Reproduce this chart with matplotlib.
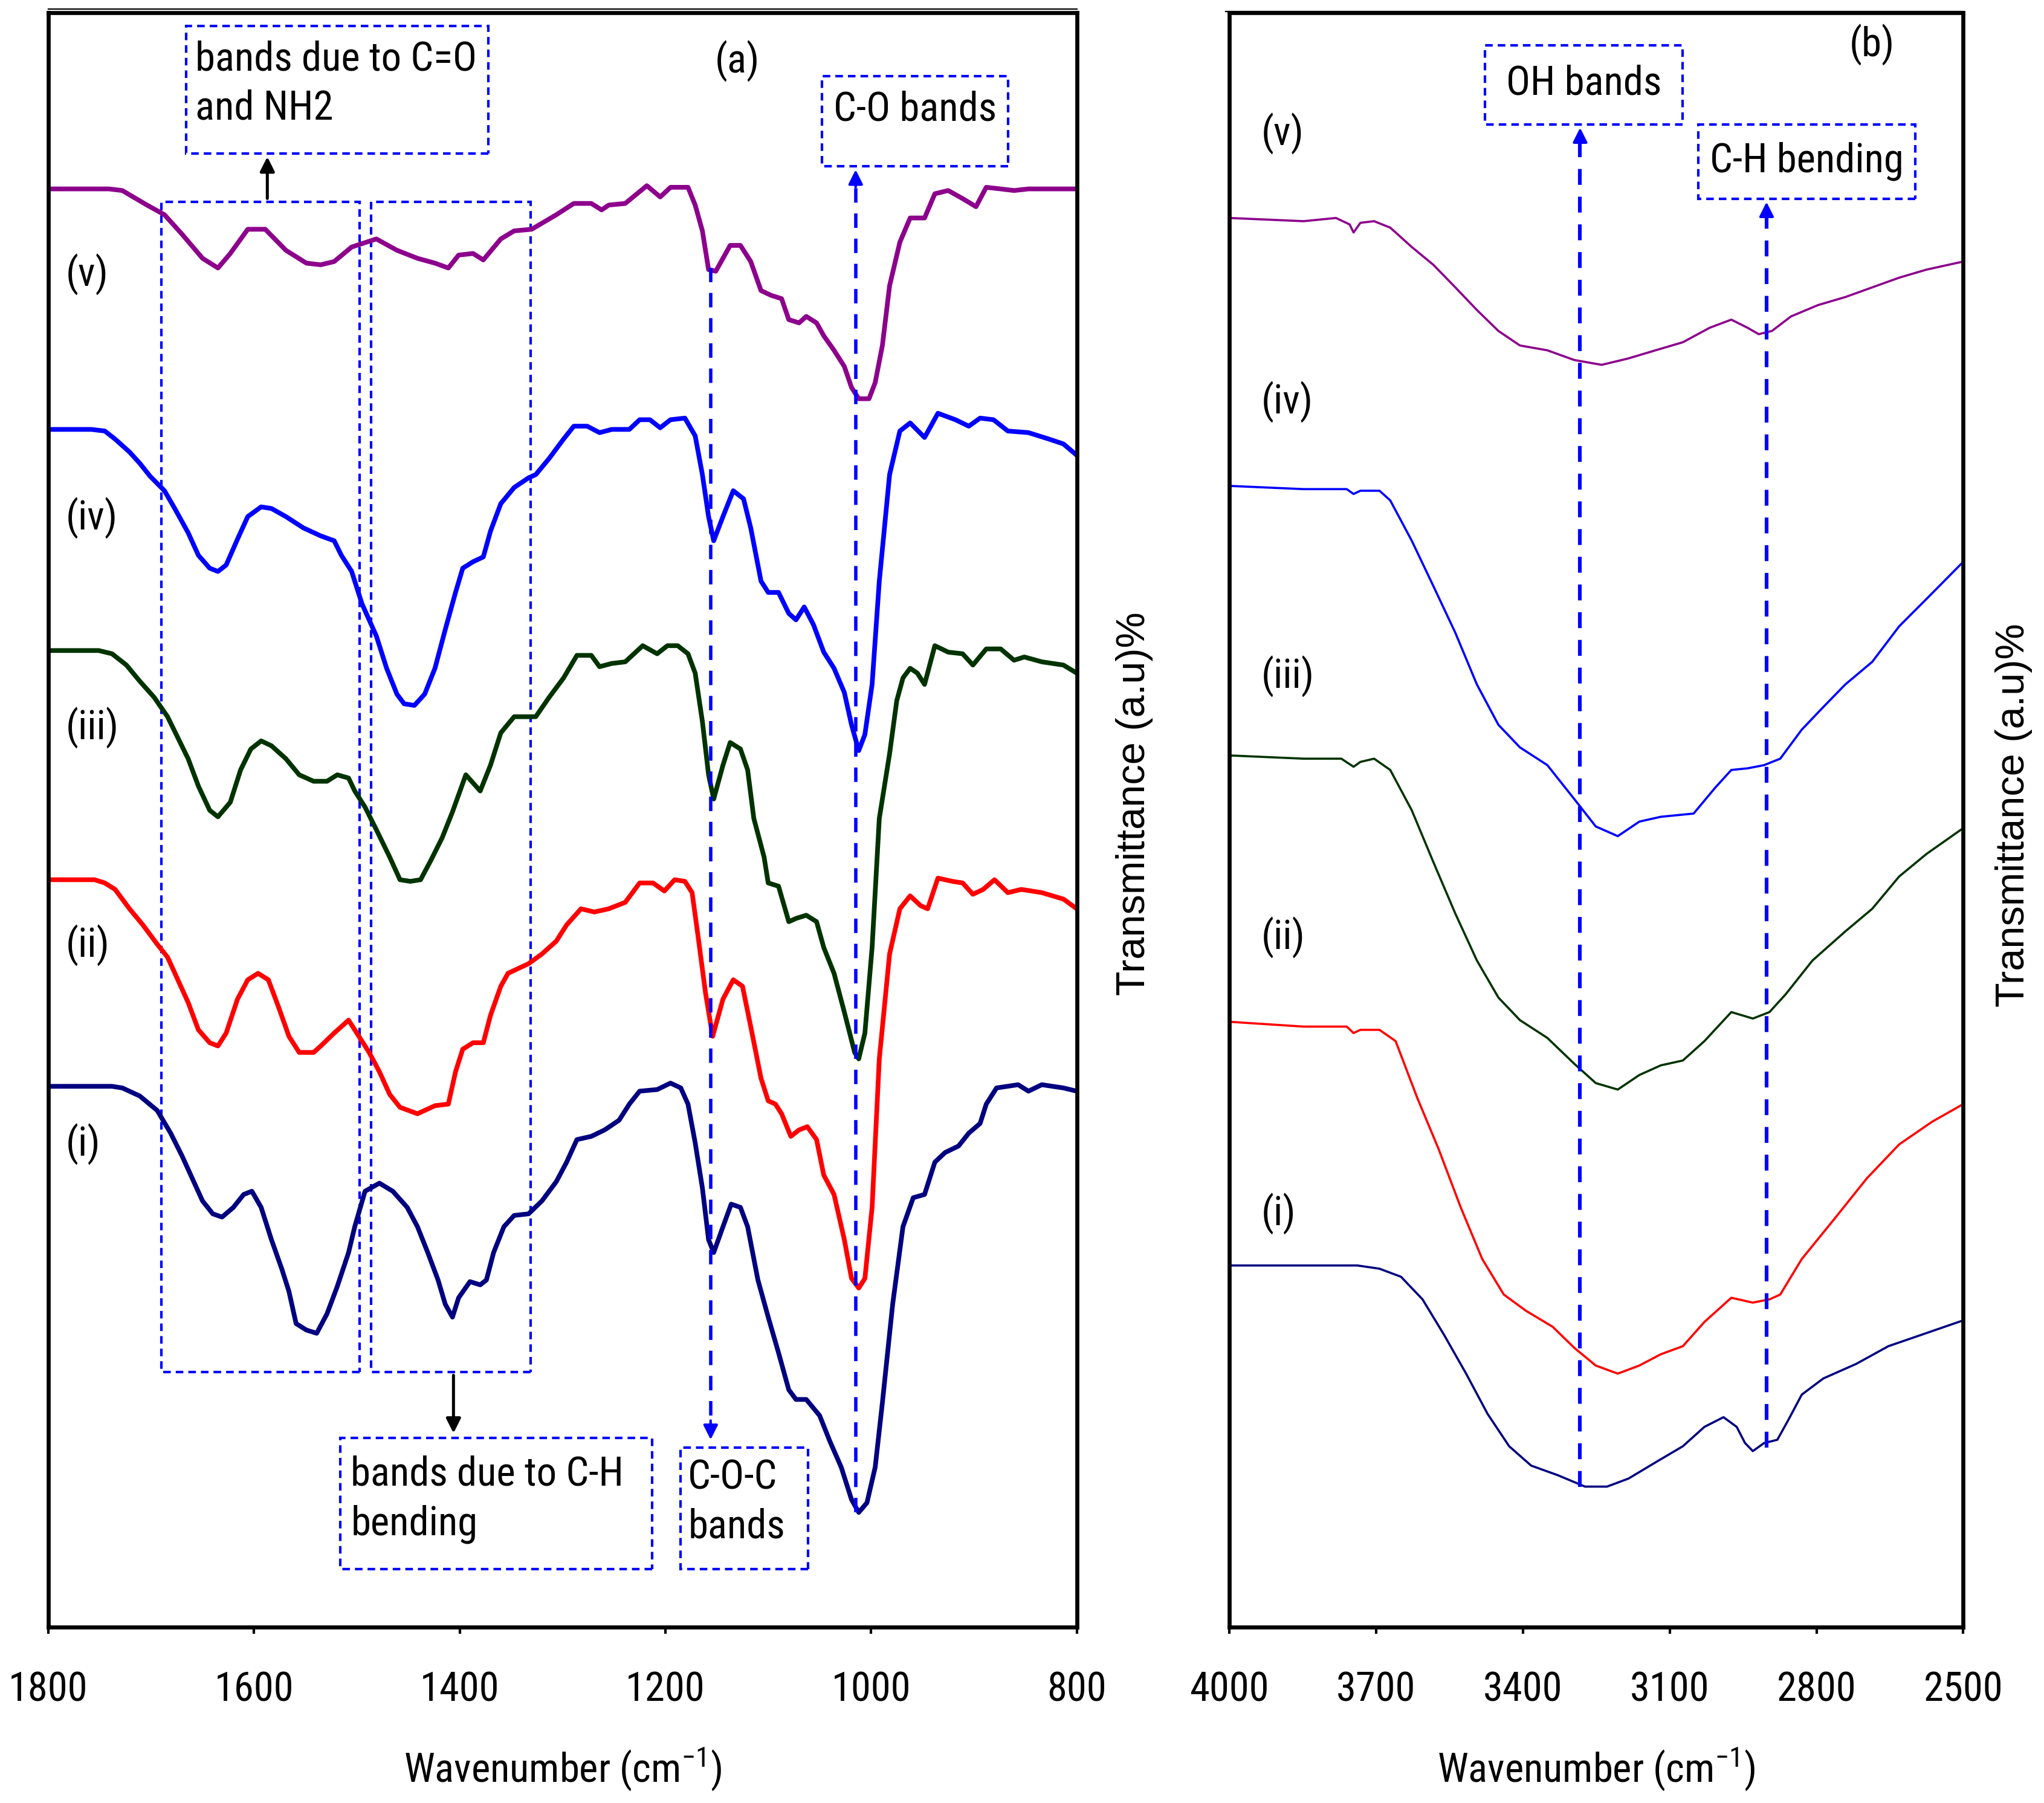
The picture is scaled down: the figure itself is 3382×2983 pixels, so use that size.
import matplotlib
matplotlib.use("Agg")
import matplotlib.pyplot as plt
from matplotlib import font_manager
from matplotlib.patches import Rectangle
from matplotlib.lines import Line2D

# a narrow sans if one is installed, otherwise plain Liberation Sans a bit smaller
narrow = None
for fam in ['Liberation Sans Narrow', 'Roboto Condensed', 'DejaVu Sans Condensed', 'Open Sans Condensed']:
    try:
        font_manager.findfont(font_manager.FontProperties(family=fam), fallback_to_default=False)
        narrow = fam
        break
    except Exception:
        pass
if narrow:
    plt.rcParams['font.family'] = [narrow, 'DejaVu Sans']
    plt.rcParams['mathtext.fontset'] = 'custom'
    plt.rcParams['mathtext.rm'] = narrow
    plt.rcParams['mathtext.it'] = narrow
    plt.rcParams['mathtext.default'] = 'regular'
    fs = 24
else:
    plt.rcParams['font.family'] = ['Liberation Sans', 'DejaVu Sans']
    fs = 21

# ---- panel (a): 1800-800 cm-1 ----
wn_v = [1800, 1741, 1728, 1704, 1687, 1670, 1650, 1635, 1623, 1606, 1589, 1569, 1549, 1535, 1522, 1505,
        1481, 1461, 1441, 1424, 1411, 1401, 1387, 1377, 1360, 1347, 1330, 1306, 1289, 1272, 1262, 1255,
        1239, 1218, 1205, 1195, 1178, 1171, 1164, 1158, 1151, 1137, 1127, 1117, 1107, 1097, 1087, 1080,
        1070, 1063, 1053, 1046, 1036, 1026, 1019, 1012, 1002, 996, 989, 982, 972, 962, 948, 938, 925,
        911, 898, 888, 874, 861, 847, 800]
t_v = [89.1, 89.1, 89.0, 88.1, 87.5, 86.3, 84.8, 84.2, 85.1, 86.6, 86.6, 85.3, 84.5, 84.4, 84.6, 85.5,
       86.0, 85.3, 84.8, 84.5, 84.2, 85.0, 85.1, 84.7, 86.0, 86.5, 86.6, 87.5, 88.2, 88.2, 87.8, 88.1,
       88.2, 89.3, 88.6, 89.2, 89.2, 88.1, 86.5, 84.1, 84.0, 85.6, 85.6, 84.6, 82.8, 82.5, 82.3, 81.0,
       80.8, 81.2, 80.8, 80.0, 79.1, 78.1, 76.8, 76.1, 76.1, 77.1, 79.4, 83.1, 85.8, 87.3, 87.3, 88.8, 89.0,
       88.5, 88.0, 89.2, 89.1, 89.0, 89.1, 89.1]

wn_iv = [1800, 1758, 1745, 1735, 1721, 1711, 1701, 1687, 1677, 1664, 1654, 1643, 1635, 1627, 1616, 1606,
         1593, 1583, 1569, 1552, 1535, 1522, 1515, 1505, 1495, 1481, 1471, 1461, 1454, 1444, 1434, 1424,
         1414, 1404, 1397, 1387, 1377, 1370, 1360, 1347, 1333, 1326, 1313, 1299, 1289, 1276, 1264, 1252,
         1235, 1225, 1215, 1205, 1195, 1181, 1171, 1164, 1158, 1153, 1144, 1134, 1124, 1117, 1107, 1100,
         1090, 1080, 1073, 1065, 1056, 1046, 1036, 1026, 1019, 1012, 1006, 999, 992, 982, 972, 962, 948,
         935, 918, 905, 894, 881, 867, 847, 827, 813, 800]
t_iv = [74.2, 74.2, 74.1, 73.6, 72.8, 72.1, 71.3, 70.4, 69.3, 67.8, 66.4, 65.6, 65.4, 65.8, 67.4, 68.8,
        69.4, 69.3, 68.8, 68.1, 67.6, 67.3, 66.4, 65.4, 63.4, 61.4, 59.4, 57.8, 57.2, 57.1, 57.8, 59.4,
        61.8, 64.1, 65.6, 66.0, 66.3, 67.9, 69.6, 70.6, 71.2, 71.4, 72.4, 73.6, 74.4, 74.4, 74.0, 74.2,
        74.2, 74.8, 74.8, 74.3, 74.8, 74.9, 73.8, 71.4, 68.8, 67.3, 68.8, 70.4, 69.9, 68.1, 64.8, 64.1,
        64.1, 62.8, 62.4, 63.2, 62.1, 60.4, 59.4, 57.9, 55.9, 54.3, 55.3, 58.4, 64.8, 71.4, 74.1, 74.6, 73.7,
        75.2, 74.8, 74.4, 74.9, 74.8, 74.1, 74.0, 73.6, 73.3, 72.6]

wn_iii = [1800, 1751, 1738, 1724, 1711, 1697, 1684, 1674, 1664, 1654, 1643, 1635, 1623, 1613, 1603, 1593,
          1583, 1569, 1556, 1542, 1529, 1519, 1508, 1502, 1492, 1481, 1468, 1458, 1448, 1438, 1428, 1417,
          1407, 1394, 1380, 1370, 1360, 1347, 1333, 1326, 1313, 1299, 1286, 1272, 1264, 1252, 1239, 1222,
          1208, 1198, 1188, 1178, 1171, 1164, 1158, 1153, 1144, 1137, 1127, 1120, 1114, 1104, 1100, 1090,
          1080, 1073, 1063, 1053, 1046, 1036, 1026, 1016, 1012, 1006, 999, 992, 982, 975, 969, 962, 955,
          948, 938, 925, 911, 901, 888, 874, 861, 851, 834, 813, 800]
t_iii = [60.5, 60.5, 60.3, 59.6, 58.6, 57.6, 56.4, 55.1, 53.8, 52.1, 50.6, 50.2, 51.1, 53.1, 54.4, 54.9,
         54.6, 53.8, 52.8, 52.4, 52.4, 52.8, 52.6, 51.8, 50.8, 49.4, 47.7, 46.3, 46.2, 46.3, 47.5, 48.9,
         50.5, 52.8, 51.8, 53.4, 55.4, 56.4, 56.4, 56.4, 57.6, 58.8, 60.2, 60.2, 59.5, 59.7, 59.8, 60.8,
         60.3, 60.8, 60.8, 60.3, 59.1, 56.1, 52.8, 51.3, 53.4, 54.8, 54.4, 53.1, 50.1, 47.7, 46.1, 45.9,
         43.7, 43.9, 44.1, 43.7, 42.1, 40.5, 38.1, 35.6, 35.2, 36.8, 42.1, 50.1, 54.1, 57.4, 58.8, 59.4, 59.1,
         58.4, 60.8, 60.4, 60.3, 59.6, 60.6, 60.6, 59.9, 60.1, 59.8, 59.6, 59.1]

wn_ii = [1800, 1755, 1745, 1735, 1721, 1708, 1694, 1684, 1674, 1664, 1654, 1643, 1635, 1627, 1616, 1606,
         1596, 1586, 1576, 1566, 1556, 1542, 1535, 1522, 1508, 1498, 1488, 1478, 1468, 1458, 1441, 1424,
         1411, 1404, 1397, 1387, 1377, 1370, 1360, 1353, 1333, 1320, 1306, 1296, 1282, 1269, 1255, 1239,
         1225, 1212, 1201, 1191, 1181, 1174, 1168, 1161, 1154, 1144, 1134, 1125, 1117, 1107, 1100, 1093,
         1087, 1078, 1070, 1062, 1053, 1046, 1036, 1026, 1019, 1012, 1006, 999, 992, 982, 972, 962, 952,
         945, 935, 921, 911, 901, 891, 880, 867, 854, 834, 813, 800]
t_ii = [46.3, 46.3, 46.1, 45.7, 44.5, 43.5, 42.3, 41.5, 40.1, 38.7, 37.0, 36.2, 36.0, 36.8, 38.9, 40.1,
        40.5, 40.1, 38.4, 36.6, 35.6, 35.6, 36.0, 36.8, 37.6, 36.6, 35.6, 34.4, 33.0, 32.2, 31.8, 32.3,
        32.4, 34.4, 35.8, 36.2, 36.2, 37.9, 39.7, 40.5, 41.1, 41.7, 42.5, 43.5, 44.5, 44.3, 44.5, 44.9,
        46.1, 46.1, 45.6, 46.3, 46.2, 45.5, 42.7, 39.3, 36.6, 38.9, 40.1, 39.7, 37.2, 34.0, 32.6, 32.4,
        31.8, 30.4, 30.8, 31.0, 30.2, 28.0, 26.8, 24.0, 21.6, 21.0, 21.6, 26.0, 35.2, 41.7, 44.5, 45.3, 44.7,
        44.5, 46.4, 46.2, 46.1, 45.4, 45.7, 46.3, 45.5, 45.7, 45.5, 45.1, 44.5]

wn_i = [1800, 1738, 1728, 1711, 1694, 1681, 1670, 1660, 1650, 1640, 1631, 1620, 1610, 1602, 1593, 1583,
        1573, 1566, 1559, 1549, 1539, 1529, 1519, 1508, 1502, 1492, 1478, 1465, 1451, 1441, 1431, 1421,
        1414, 1407, 1401, 1390, 1380, 1374, 1367, 1357, 1347, 1333, 1320, 1306, 1296, 1286, 1272, 1259,
        1245, 1235, 1225, 1208, 1195, 1185, 1178, 1171, 1164, 1158, 1153, 1144, 1136, 1127, 1120, 1110,
        1100, 1090, 1080, 1073, 1063, 1050, 1040, 1029, 1019, 1012, 1004, 996, 989, 979, 969, 959, 948,
        938, 928, 915, 905, 894, 888, 878, 857, 847, 834, 813, 800]
t_i = [33.5, 33.5, 33.4, 32.9, 32.0, 30.6, 29.2, 27.8, 26.4, 25.6, 25.4, 26.0, 26.8, 27.0, 26.0, 24.0,
       22.2, 20.8, 18.8, 18.4, 18.2, 19.4, 21.1, 23.2, 24.8, 27.0, 27.5, 27.0, 26.0, 24.8, 23.2, 21.5,
       20.0, 19.2, 20.4, 21.4, 21.2, 21.5, 23.2, 24.8, 25.5, 25.6, 26.4, 27.6, 28.8, 30.2, 30.4, 30.8,
       31.4, 32.4, 33.2, 33.3, 33.7, 33.4, 32.4, 30.0, 27.2, 24.0, 23.2, 24.8, 26.2, 26.0, 24.8, 21.5,
       19.2, 17.0, 14.7, 14.1, 14.1, 13.1, 11.5, 9.9, 7.9, 7.1, 7.7, 9.9, 13.9, 20.0, 24.8, 26.6, 26.8,
       28.8, 29.4, 29.8, 30.6, 31.2, 32.4, 33.4, 33.6, 33.2, 33.6, 33.4, 33.2]

# ---- panel (b): 4000-2500 cm-1 ----
wnb_v = [4000, 3848, 3782, 3754, 3746, 3732, 3704, 3671, 3627, 3583, 3538, 3494, 3450, 3406, 3350, 3295,
         3239, 3184, 3129, 3073, 3018, 2974, 2941, 2918, 2891, 2852, 2797, 2741, 2686, 2631, 2575, 2500]
tb_v = [87.3, 87.1, 87.3, 86.9, 86.4, 87.0, 87.1, 86.7, 85.5, 84.4, 83.0, 81.6, 80.3, 79.4, 79.1, 78.5,
        78.2, 78.6, 79.1, 79.6, 80.5, 81.0, 80.5, 80.1, 80.3, 81.2, 81.9, 82.4, 83.0, 83.6, 84.1, 84.6]

wnb_iv = [4000, 3848, 3760, 3746, 3732, 3693, 3671, 3627, 3583, 3538, 3494, 3450, 3406, 3350, 3295, 3251,
          3206, 3162, 3118, 3051, 3007, 2974, 2941, 2907, 2874, 2830, 2786, 2741, 2686, 2631, 2575, 2500]
tb_iv = [70.7, 70.5, 70.5, 70.2, 70.4, 70.4, 69.8, 67.3, 64.5, 61.6, 58.4, 55.9, 54.5, 53.4, 51.3, 49.6,
         49.0, 49.9, 50.2, 50.4, 52.0, 53.1, 53.2, 53.4, 53.8, 55.6, 57.0, 58.4, 59.8, 62.0, 63.7, 66.0]

wnb_iii = [4000, 3848, 3771, 3746, 3732, 3704, 3671, 3627, 3583, 3538, 3494, 3450, 3406, 3350, 3295, 3251,
           3206, 3162, 3118, 3073, 3029, 2974, 2930, 2896, 2863, 2808, 2741, 2686, 2631, 2575, 2500]
tb_iii = [54.0, 53.8, 53.8, 53.3, 53.6, 53.8, 53.1, 50.6, 47.4, 44.2, 41.3, 39.0, 37.6, 36.5, 34.9, 33.7,
          33.3, 34.2, 34.8, 35.1, 36.3, 38.1, 37.7, 38.1, 39.2, 41.3, 43.1, 44.5, 46.5, 47.9, 49.5]

wnb_ii = [4000, 3848, 3760, 3746, 3732, 3693, 3660, 3616, 3572, 3527, 3483, 3439, 3394, 3339, 3295, 3251,
          3206, 3162, 3118, 3073, 3029, 2974, 2930, 2896, 2874, 2830, 2763, 2697, 2631, 2564, 2500]
tb_ii = [37.5, 37.2, 37.2, 36.8, 37.0, 37.0, 36.3, 32.8, 29.6, 26.0, 22.8, 20.6, 19.6, 18.6, 17.3, 16.2,
         15.7, 16.2, 16.9, 17.4, 18.9, 20.4, 20.1, 20.3, 20.6, 22.8, 25.3, 27.8, 29.9, 31.3, 32.4]

wnb_i = [4000, 3738, 3693, 3649, 3605, 3561, 3516, 3472, 3428, 3383, 3328, 3273, 3228, 3184, 3129, 3073,
         3029, 2990, 2963, 2946, 2930, 2907, 2880, 2858, 2830, 2786, 2719, 2653, 2586, 2500]
tb_i = [22.4, 22.4, 22.2, 21.7, 20.3, 18.1, 15.7, 13.2, 11.2, 10.0, 9.4, 8.7, 8.7, 9.2, 10.2, 11.2,
        12.4, 13.0, 12.4, 11.4, 10.9, 11.4, 11.6, 12.8, 14.4, 15.4, 16.3, 17.4, 18.1, 19.0]

labels = ['(v)', '(iv)', '(iii)', '(ii)', '(i)']
colors = ['#8C008C', '#0000FF', '#003300', '#FF0000', '#000080']
label_y_a = [83.8, 68.7, 55.7, 42.2, 29.9]
label_y_b = [92.5, 75.9, 58.9, 42.7, 25.6]
ticks_a = [1800, 1600, 1400, 1200, 1000, 800]
ticks_b = [4000, 3700, 3400, 3100, 2800, 2500]

fig = plt.figure(figsize=(16.91, 14.915), dpi=200)
ax1 = fig.add_axes([0.0236, 0.0976, 0.5032, 0.8952])
ax2 = fig.add_axes([0.6014, 0.0976, 0.3591, 0.8952])

blue = '#0000FF'
dash = (0, (4.3, 3.2))

# panel (a)
curves_a = [(wn_v, t_v), (wn_iv, t_iv), (wn_iii, t_iii), (wn_ii, t_ii), (wn_i, t_i)]
for (x, y), c in zip(curves_a, colors):
    ax1.plot(x, y, color=c, lw=2.8)
for lab, ly in zip(labels, label_y_a):
    ax1.text(1783, ly, lab, fontsize=fs, ha='left', va='center')

# dashed boxes round the band regions
for x0, x1 in [(1690, 1497), (1486, 1331)]:
    ax1.add_patch(Rectangle((x1, 15.8), x0 - x1, 88.3 - 15.8, fill=False, ec=blue,
                            lw=1.5, ls=(0, (3, 2))))

# text boxes
boxes_a = [(1666, 1372, 91.3, 99.2), (1048, 867, 90.5, 96.1),
           (1516, 1213, 3.6, 11.7), (1185, 1061, 3.6, 11.1)]
for x0, x1, y0, y1 in boxes_a:
    ax1.add_patch(Rectangle((x1, y0), x0 - x1, y1 - y0, fill=False, ec=blue,
                            lw=1.5, ls=(0, (3, 2))))
ax1.text(1657, 95.6, 'bands due to C=O\nand NH2', fontsize=fs, ha='left', va='center', linespacing=1.35)
ax1.text(957, 94.0, 'C-O bands', fontsize=fs, ha='center', va='center')
ax1.text(1506, 7.9, 'bands due to C-H\nbending', fontsize=fs, ha='left', va='center', linespacing=1.35)
ax1.text(1178, 7.7, 'C-O-C\nbands', fontsize=fs, ha='left', va='center', linespacing=1.35)
ax1.text(1130, 97.0, '(a)', fontsize=fs, ha='center', va='center')

# arrows
ax1.annotate('', xy=(1587, 91.3), xytext=(1587, 88.3),
             arrowprops=dict(arrowstyle='-|>', color='black', lw=1.8, mutation_scale=18))
ax1.annotate('', xy=(1406, 11.8), xytext=(1406, 15.8),
             arrowprops=dict(arrowstyle='-|>', color='black', lw=1.8, mutation_scale=18))
ax1.plot([1156, 1156], [84.2, 12.5], color=blue, lw=2.0, ls=dash)
ax1.annotate('', xy=(1156, 11.4), xytext=(1156, 13.0),
             arrowprops=dict(arrowstyle='-|>', color=blue, lw=1.5, mutation_scale=18))
ax1.plot([1015, 1015], [7.1, 89.5], color=blue, lw=2.0, ls=dash)
ax1.annotate('', xy=(1015, 90.5), xytext=(1015, 89.0),
             arrowprops=dict(arrowstyle='-|>', color=blue, lw=1.5, mutation_scale=18))

ax1.set_xlim(1800, 800)
ax1.set_xticks(ticks_a)

# panel (b)
curves_b = [(wnb_v, tb_v), (wnb_iv, tb_iv), (wnb_iii, tb_iii), (wnb_ii, tb_ii), (wnb_i, tb_i)]
for (x, y), c in zip(curves_b, colors):
    ax2.plot(x, y, color=c, lw=1.3)
for lab, ly in zip(labels, label_y_b):
    ax2.text(3935, ly, lab, fontsize=fs, ha='left', va='center')

boxes_b = [(3478, 3073, 93.1, 98.0), (3041, 2598, 88.5, 93.1)]
for x0, x1, y0, y1 in boxes_b:
    ax2.add_patch(Rectangle((x1, y0), x0 - x1, y1 - y0, fill=False, ec=blue,
                            lw=1.5, ls=(0, (3, 2))))
ax2.text(3275, 95.6, 'OH bands', fontsize=fs, ha='center', va='center')
ax2.text(2820, 90.8, 'C-H bending', fontsize=fs, ha='center', va='center')
ax2.text(2686, 98.0, '(b)', fontsize=fs, ha='center', va='center')

ax2.plot([3283, 3283], [8.7, 92.0], color=blue, lw=2.2, ls=dash)
ax2.annotate('', xy=(3283, 93.1), xytext=(3283, 91.5),
             arrowprops=dict(arrowstyle='-|>', color=blue, lw=1.5, mutation_scale=18))
ax2.plot([2902, 2902], [11.1, 87.4], color=blue, lw=2.2, ls=dash)
ax2.annotate('', xy=(2902, 88.5), xytext=(2902, 86.9),
             arrowprops=dict(arrowstyle='-|>', color=blue, lw=1.5, mutation_scale=18))

ax2.set_xlim(4000, 2500)
ax2.set_xticks(ticks_b)

for ax in (ax1, ax2):
    ax.set_ylim(0, 100)
    ax.set_yticks([])
    for s in ax.spines.values():
        s.set_linewidth(2.4)
    ax.tick_params(axis='x', direction='out', length=4, width=1.5, labelsize=fs, pad=22)
    ax.text(0.5, -0.088, 'Wavenumber (cm$^{-1}$)', transform=ax.transAxes, fontsize=fs,
            ha='center', va='center')

ax1.text(1.056, 0.51, 'Transmittance (a.u)%', transform=ax1.transAxes, rotation=90,
         fontsize=fs, family=['Liberation Sans', 'DejaVu Sans'], ha='center', va='center')
ax2.text(1.069, 0.503, 'Transmittance (a.u)%', transform=ax2.transAxes, rotation=90,
         fontsize=fs, family=['Liberation Sans', 'DejaVu Sans'], ha='center', va='center')

# thin border lines above each chart
fig.add_artist(Line2D([0.0236, 0.5268], [0.9949, 0.9949], color='black', lw=0.8))
fig.add_artist(Line2D([0.5995, 0.9605], [0.9935, 0.9935], color='black', lw=0.8))

fig.savefig('out.png', dpi=200)
